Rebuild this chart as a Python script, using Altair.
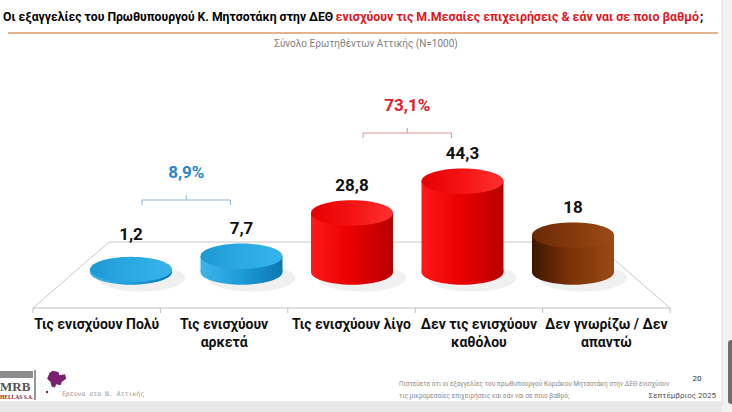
import altair as alt
import pandas as pd
import numpy as np

# ---------------- data ----------------
categories = ["Τις ενισχύουν Πολύ", "Τις ενισχύουν αρκετά", "Τις ενισχύουν λίγο",
              "Δεν τις ενισχύουν καθόλου", "Δεν γνωρίζω / Δεν απαντώ"]
label_text = ["Τις ενισχύουν Πολύ", "Τις ενισχύουν\nαρκετά", "Τις ενισχύουν λίγο",
              "Δεν τις ενισχύουν\nκαθόλου", "Δεν γνωρίζω / Δεν\nαπαντώ"]
values = [1.2, 7.7, 28.8, 44.3, 18.0]
value_labels = ["1,2", "7,7", "28,8", "44,3", "18"]
groups = ["blue", "blue", "red", "red", "brown"]

group_totals = ["8,9%", "73,1%"]
group_members = [[0, 1], [2, 3]]
group_colors = ["#2b86cc", "#e3202a"]

title_black = "Οι εξαγγελίες του Πρωθυπουργού Κ. Μητσοτάκη στην ΔΕΘ"
title_red = "ενισχύουν τις Μ.Μεσαίες επιχειρήσεις & εάν ναι σε ποιο βαθμό"
title_end = ";"
subtitle = "Σύνολο Ερωτηθέντων Αττικής (N=1000)"
footer_note = ["Πιστεύετε ότι οι εξαγγελίες του πρωθυπουργού Κυριάκου Μητσοτάκη στην ΔΕΘ ενισχύουν",
               "τις μικρομεσαίες επιχειρήσεις και εάν ναι σε ποιο βαθμό;"]
page_number = "20"
date_text = "Σεπτέμβριος 2025"
brand_text = "΄Ερευνα στο Ν. Αττικής"

FONT = "Roboto, sans-serif"
W, H = 732, 412

df = pd.DataFrame({
    "idx": list(range(len(categories))),
    "cat": categories,
    "label": label_text,
    "value": values,
    "vlabel": value_labels,
    "group": groups,
})

# ---------------- scales ----------------
xbar = alt.Scale(domain=[-0.5, 4.5], range=[75.75, 628.25])
xlab = alt.Scale(domain=[-0.5, 4.5], range=[33, 670])
yscale = alt.Scale(domain=[0, 100], range=[272, 67])

# ellipse symbol path (unit square -1..1)
t = np.linspace(0, 2 * np.pi, 61)[:-1]
ELL = "M" + " L".join(f"{np.cos(a):.4f},{0.31 * np.sin(a):.4f}" for a in t) + " Z"
SZ = 82 ** 2
HALF = 0.371  # half bar width in band units (82px / 110.5px)


def grad(stops):
    return alt.Gradient(gradient="linear", x1=0, x2=1, y1=0, y2=0,
                        stops=[alt.GradientStop(color=c, offset=o) for o, c in stops])


palette = {
    "blue": dict(body=[(0, "#3fb4ea"), (0.5, "#1c9bd7"), (1, "#0c78b3")],
                 top=[(0, "#1e98d2"), (0.5, "#2aa9e2"), (1, "#37b3ea")]),
    "red": dict(body=[(0, "#ff1a1a"), (0.45, "#ec0000"), (1, "#b80000")],
                top=[(0, "#e60000"), (0.5, "#f41414"), (1, "#ff3030")]),
    "brown": dict(body=[(0, "#3e1502"), (0.45, "#7a3206"), (1, "#9b4a14")],
                  top=[(0, "#6a2a05"), (0.5, "#853a0c"), (1, "#9c4b16")]),
}

base = alt.Chart(df).transform_calculate(
    zero="0", lo=f"datum.idx - {HALF}", hi=f"datum.idx + {HALF}",
    ly="max(datum.value, 5)")

layers = []

# light floor
one = alt.Chart(pd.DataFrame({"a": [0]}))
floor_color = "#c8c8c8"
for (xa, ya, xb, yb) in [(33, 308, 109, 242), (109, 242, 594, 242), (594, 242, 670, 308)]:
    layers.append(one.mark_rule(color=floor_color, strokeWidth=1).encode(
        x=alt.value(xa), y=alt.value(ya), x2=alt.value(xb), y2=alt.value(yb)))

# shadows
layers.append(base.mark_point(shape=ELL, size=SZ * 1.15, filled=True, color="#000000",
                              opacity=0.06, strokeWidth=0).encode(
    x=alt.X("idx:Q", scale=xbar, axis=None),
    y=alt.Y("zero:Q", scale=yscale, axis=None),
    xOffset=alt.value(10), yOffset=alt.value(6)))

# cylinders
for g, pal in palette.items():
    sub = base.transform_filter(alt.datum.group == g)
    layers.append(sub.mark_point(shape=ELL, size=SZ, filled=True, fill=grad(pal["body"]),
                                 opacity=1, strokeWidth=0).encode(
        x=alt.X("idx:Q", scale=xbar, axis=None),
        y=alt.Y("zero:Q", scale=yscale, axis=None)))
    layers.append(sub.mark_rect(fill=grad(pal["body"])).encode(
        x=alt.X("lo:Q", scale=xbar, axis=None), x2="hi:Q",
        y=alt.Y("zero:Q", scale=yscale, axis=None), y2="value:Q"))
    layers.append(sub.mark_point(shape=ELL, size=SZ, filled=True, fill=grad(pal["top"]),
                                 opacity=1, strokeWidth=0).encode(
        x=alt.X("idx:Q", scale=xbar, axis=None),
        y=alt.Y("value:Q", scale=yscale, axis=None)))

# value labels
layers.append(base.mark_text(font=FONT, fontSize=17, fontWeight="bold", color="#111111",
                             baseline="middle", dy=-27).encode(
    x=alt.X("idx:Q", scale=xbar, axis=None),
    y=alt.Y("ly:Q", scale=yscale, axis=None),
    text="vlabel:N"))

# axis line, ticks, category labels
layers.append(one.mark_rule(color="#bfbfbf", strokeWidth=1).encode(
    x=alt.value(33), x2=alt.value(670), y=alt.value(308)))
ticks = pd.DataFrame({"b": [i - 0.5 for i in range(len(categories) + 1)]})
layers.append(alt.Chart(ticks).mark_rule(color="#bfbfbf").encode(
    x=alt.X("b:Q", scale=xlab, axis=None), y=alt.value(308), y2=alt.value(313)))
layers.append(base.mark_text(font=FONT, fontSize=14, fontWeight="bold", color="#111111",
                             baseline="top", lineBreak="\n", lineHeight=18).encode(
    x=alt.X("idx:Q", scale=xlab, axis=None), y=alt.value(318), text="label:N"))

# group brackets
bracket_y = [200, 133]
for k, members in enumerate(group_members):
    lo = min(members) + 0.1
    hi = max(members) - 0.1
    mid = (lo + hi) / 2
    col = group_colors[k]
    lc = "#8fb4d6" if k == 0 else "#e59090"
    yb = bracket_y[k]
    bd = pd.DataFrame({"lo": [lo], "hi": [hi], "mid": [mid], "txt": [group_totals[k]]})
    bc = alt.Chart(bd)
    layers.append(bc.mark_rule(color=lc).encode(
        x=alt.X("lo:Q", scale=xbar, axis=None), x2="hi:Q", y=alt.value(yb)))
    layers.append(bc.mark_rule(color=lc).encode(
        x=alt.X("lo:Q", scale=xbar, axis=None), y=alt.value(yb), y2=alt.value(yb + 5)))
    layers.append(bc.mark_rule(color=lc).encode(
        x=alt.X("hi:Q", scale=xbar, axis=None), y=alt.value(yb), y2=alt.value(yb + 5)))
    layers.append(bc.mark_rule(color=lc).encode(
        x=alt.X("mid:Q", scale=xbar, axis=None), y=alt.value(yb - 5), y2=alt.value(yb)))
    layers.append(bc.mark_text(font=FONT, fontSize=17, fontWeight="bold", color=col,
                               baseline="middle").encode(
        x=alt.X("mid:Q", scale=xbar, axis=None), y=alt.value(yb - 27), text="txt:N"))

# title, rule, subtitle
layers.append(one.mark_text(font=FONT, fontSize=12.2, fontWeight="bold", color="#000000",
                            align="left", baseline="middle", text=title_black).encode(
    x=alt.value(3), y=alt.value(17)))
layers.append(one.mark_text(font=FONT, fontSize=12.4, fontWeight="bold", color="#e3141b",
                            align="right", baseline="middle", text=title_red).encode(
    x=alt.value(699), y=alt.value(17)))
layers.append(one.mark_text(font=FONT, fontSize=12.4, fontWeight="bold", color="#000000",
                            align="left", baseline="middle", text=title_end).encode(
    x=alt.value(700), y=alt.value(17)))
layers.append(one.mark_rule(color="#d89a66", strokeWidth=1.5).encode(
    x=alt.value(8), x2=alt.value(718), y=alt.value(33)))
layers.append(one.mark_text(font=FONT, fontSize=10, color="#7f7f7f", align="center",
                            baseline="middle", text=subtitle).encode(
    x=alt.value(366), y=alt.value(44)))

# right strip and bottom band
layers.append(one.mark_rect(color="#f2f2f2").encode(
    x=alt.value(722), x2=alt.value(732), y=alt.value(0), y2=alt.value(412)))
layers.append(one.mark_rule(color="#dcdcdc").encode(
    x=alt.value(722), y=alt.value(0), y2=alt.value(405)))
layers.append(one.mark_rect(color="#6e6e6e", cornerRadius=3).encode(
    x=alt.value(728), x2=alt.value(734), y=alt.value(340), y2=alt.value(404)))
layers.append(one.mark_rect(color="#e8e8e8").encode(
    x=alt.value(0), x2=alt.value(722), y=alt.value(401), y2=alt.value(412)))

# footer note, page, date
for i, line in enumerate(footer_note):
    layers.append(one.mark_text(font=FONT, fontSize=6.5, color="#8a8a8a", align="left",
                                baseline="middle", text=line).encode(
        x=alt.value(399), y=alt.value(384 + 12 * i)))
layers.append(one.mark_text(font=FONT, fontSize=8, color="#333333", align="center",
                            baseline="middle", text=page_number).encode(
    x=alt.value(697), y=alt.value(379)))
layers.append(one.mark_text(font=FONT, fontSize=8, color="#555555", align="right",
                            baseline="middle", text=date_text).encode(
    x=alt.value(716), y=alt.value(396)))

# logo block
layers.append(one.mark_rect(color="#8c8c8c").encode(
    x=alt.value(0), x2=alt.value(33), y=alt.value(371), y2=alt.value(378)))
layers.append(one.mark_text(font="Liberation Serif", fontSize=13, fontWeight="bold",
                            color="#555555", align="left", baseline="middle",
                            text="MRB").encode(x=alt.value(0), y=alt.value(387)))
layers.append(one.mark_text(font="Liberation Serif", fontSize=5.5, fontWeight="bold",
                            color="#7a1f2a", align="left", baseline="middle",
                            text="HELLAS S.A.").encode(x=alt.value(0), y=alt.value(397)))
layers.append(one.mark_rule(color="#333333").encode(
    x=alt.value(35), y=alt.value(370), y2=alt.value(400)))
ATTICA = "M-0.2,-1 L0.3,-0.9 L0.4,-0.6 L0.9,-0.7 L1,-0.3 L0.6,0 L0.5,0.3 L0.1,0.2 L0,0.5 L-0.3,0.4 L-0.4,0 L-0.7,-0.3 L-0.5,-0.8 Z"
layers.append(one.mark_point(shape=ATTICA, size=500, filled=True, color="#7b1f70",
                             opacity=1, strokeWidth=0).encode(
    x=alt.value(55), y=alt.value(382)))
layers.append(one.mark_point(shape="circle", size=6, filled=True, color="#7b1f70",
                             opacity=1).encode(x=alt.value(47), y=alt.value(392)))
layers.append(one.mark_text(font="DejaVu Sans Mono", fontSize=6.5, color="#9a9a9a",
                            align="left", baseline="middle", text=brand_text).encode(
    x=alt.value(58), y=alt.value(394)))

chart = alt.layer(*layers).resolve_scale(x="independent", y="shared").properties(
    width=W, height=H, autosize=alt.AutoSizeParams(type="none"), padding=0,
    background="white"
).configure_view(stroke=None)

chart.save("out.html", embed_options={"renderer": "svg", "actions": False})
